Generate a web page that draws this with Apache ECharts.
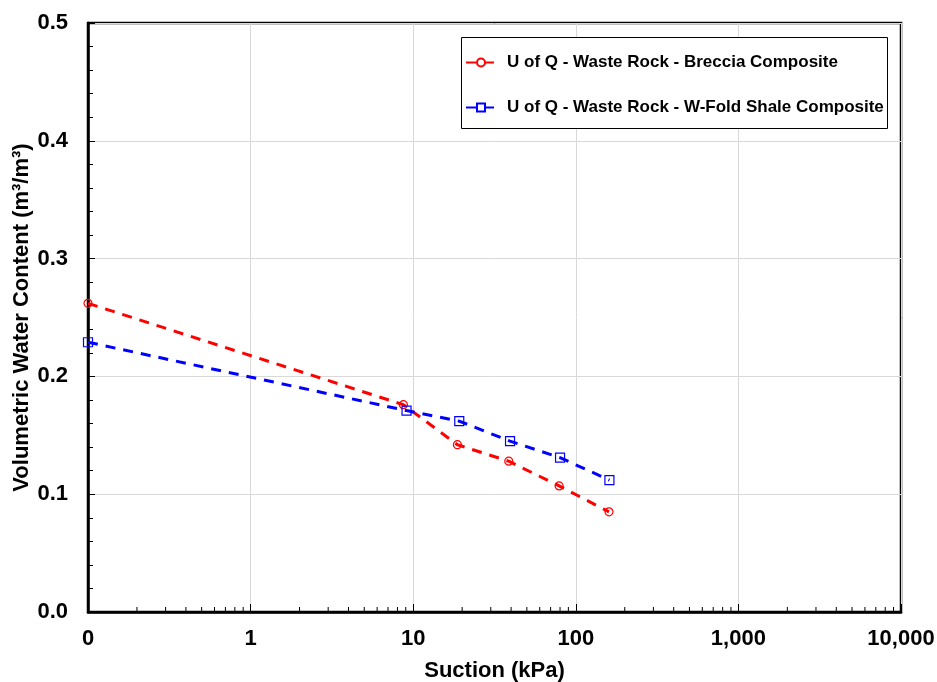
<!DOCTYPE html>
<html>
<head>
<meta charset="utf-8">
<script src="https://cdn.jsdelivr.net/npm/echarts@6/dist/echarts.min.js"></script>
<style>
  html, body { margin: 0; padding: 0; background: #fff; }
  #chart { width: 937px; height: 682px; }
</style>
</head>
<body>
<div id="chart"></div>
<script>
// Soil-water characteristic data (suction in kPa, volumetric water content)
const brecciaSuction = [0.1, 8.7, 18.7, 38.7, 79, 160];
const brecciaVwc     = [0.262, 0.176, 0.142, 0.128, 0.107, 0.085];
const shaleSuction   = [0.1, 9.1, 19.2, 39.4, 80, 161];
const shaleVwc       = [0.229, 0.171, 0.162, 0.145, 0.131, 0.112];

const seriesNames = [
  'U of Q - Waste Rock - Breccia Composite',
  'U of Q - Waste Rock - W-Fold Shale Composite'
];

// Minor tick positions within each decade (2..9 x 10^n)
const decades = [0.1, 1, 10, 100, 1000];
const minorMultipliers = [2, 3, 4, 5, 6, 7, 8, 9];
const minorTickValues = [];
decades.forEach(d => minorMultipliers.forEach(m => minorTickValues.push(+(d * m).toPrecision(3))));

const FONT = '"Liberation Sans", Arial, sans-serif';

function pairs(xs, ys) { return xs.map((x, i) => [x, ys[i]]); }

const chart = echarts.init(document.getElementById('chart'), null, { renderer: 'canvas' });

chart.setOption({
  animation: false,
  backgroundColor: '#fff',
  textStyle: { fontFamily: FONT },
  grid: {
    left: 88, top: 23, right: 36, bottom: 70,
    outerBoundsMode: 'none',
    containLabel: false,
    show: true, borderColor: '#000', borderWidth: 2.5, backgroundColor: 'transparent'
  },
  graphic: [
    {
      // legend frame
      type: 'rect',
      left: 461, top: 37,
      shape: { width: 426, height: 91 },
      style: { fill: '#fff', stroke: '#000', lineWidth: 1 },
      z: 50
    }
  ],
  legend: {
    orient: 'vertical',
    left: 465, top: 54,
    padding: 0,
    itemGap: 28,
    itemWidth: 30, itemHeight: 10,
    z: 60,
    textStyle: { fontFamily: FONT, fontWeight: 'bold', fontSize: 17, color: '#000', padding: [0, 0, 0, 6] },
    data: seriesNames
  },
  xAxis: {
    type: 'log', logBase: 10, min: 0.1, max: 10000,
    name: 'Suction (kPa)', nameLocation: 'middle', nameGap: 48,
    nameTextStyle: { fontFamily: FONT, fontWeight: 'bold', fontSize: 22, color: '#000' },
    axisLine: { show: true, lineStyle: { color: '#000', width: 2.5 } },
    axisTick: { show: true, inside: true, length: 8, lineStyle: { color: '#000', width: 1 } },
    splitLine: { show: true, lineStyle: { color: '#d9d9d9', width: 1 } },
    axisLabel: {
      margin: 16, fontFamily: FONT, fontWeight: 'bold', fontSize: 22, color: '#000',
      formatter: v => v < 1 ? '0' : Math.round(v).toLocaleString('en-US')
    }
  },
  yAxis: {
    type: 'value', min: 0, max: 0.5, interval: 0.1,
    name: 'Volumetric Water Content (m³/m³)', nameLocation: 'middle', nameGap: 55,
    nameMoveOverlap: false,
    nameTextStyle: { fontFamily: FONT, fontWeight: 'bold', fontSize: 22, color: '#000' },
    axisLine: { show: true, lineStyle: { color: '#000', width: 2.5 } },
    axisTick: { show: true, inside: true, length: 7, lineStyle: { color: '#000', width: 1 } },
    minorTick: { show: true, splitNumber: 5, length: 5, lineStyle: { color: '#000', width: 1 } },
    splitLine: { show: true, lineStyle: { color: '#d9d9d9', width: 1 } },
    axisLabel: {
      margin: 20, fontFamily: FONT, fontWeight: 'bold', fontSize: 22, color: '#000',
      formatter: v => v.toFixed(1)
    }
  },
  series: [
    {
      // minor log ticks along the bottom axis
      type: 'custom',
      silent: true,
      clip: false,
      data: minorTickValues.map(v => [v, 0]),
      renderItem: (params, api) => {
        const p = api.coord([api.value(0), 0]);
        return {
          type: 'line',
          shape: { x1: p[0], y1: p[1], x2: p[0], y2: p[1] - 5 },
          style: { stroke: '#000', lineWidth: 1 }
        };
      },
      z: 5
    },
    {
      name: seriesNames[0],
      type: 'line',
      data: pairs(brecciaSuction, brecciaVwc),
      symbol: 'circle', symbolSize: 8,
      lineStyle: { color: '#ff0000', width: 3, type: [10, 8] },
      itemStyle: { color: 'rgba(0,0,0,0)', borderColor: '#ff0000', borderWidth: 1.2 },
      clip: false,
      z: 3
    },
    {
      name: seriesNames[1],
      type: 'line',
      data: pairs(shaleSuction, shaleVwc),
      symbol: 'rect', symbolSize: 9,
      lineStyle: { color: '#0000ff', width: 3, type: [10, 8] },
      itemStyle: { color: 'rgba(0,0,0,0)', borderColor: '#0000ff', borderWidth: 1.2 },
      clip: false,
      z: 3
    }
  ]
});
</script>
</body>
</html>
